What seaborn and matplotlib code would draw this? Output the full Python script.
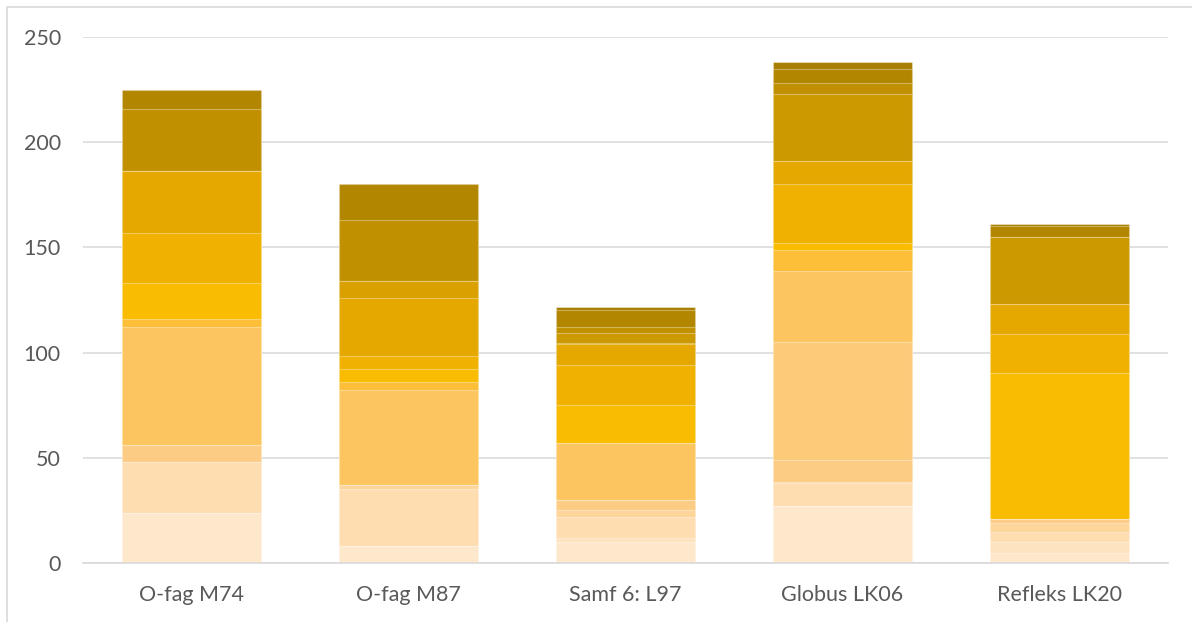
import numpy as np
import pandas as pd
import matplotlib
matplotlib.use("Agg")
import matplotlib.pyplot as plt
import seaborn as sns
from matplotlib.patches import Rectangle

# categories on the x axis
categories = ["O-fag M74", "O-fag M87", "Samf 6: L97", "Globus LK06", "Refleks LK20"]

# segment heights, one list per stacked series (bottom -> top), one value per category
s01 = [24, 8, 10, 27, 4.75]
s02 = [0, 0, 2, 0, 5.25]
s03 = [24, 27, 10, 11, 4.7]
s04 = [0, 2, 3, 0.5, 4.3]
s05 = [8, 0, 5, 10.5, 2]
s06 = [0, 0, 0, 56, 0]
s07 = [56, 45, 27, 34, 0]
s08 = [4, 4, 0, 10, 0]
s09 = [17, 6, 18, 3, 69.5]
s10 = [24, 6.5, 19, 28, 18.5]
s11 = [29.5, 27.5, 10, 11, 14]
s12 = [0, 8, 0.8, 0, 0]
s13 = [0, 0, 4.5, 32, 32]
s14 = [29.5, 29, 2.8, 5, 0]
s15 = [9, 17, 8.2, 7, 5]
s16 = [0, 0, 1.6, 3, 1]

series = [s01, s02, s03, s04, s05, s06, s07, s08, s09, s10, s11, s12, s13, s14, s15, s16]

colors = ["#FEE8CC", "#FEE3C0", "#FEDDB1", "#FDD59A", "#FDCC84", "#FDCA7A",
          "#FDC560", "#FDBE38", "#F9BC00", "#F0B100", "#E5A800", "#DAA000",
          "#CC9900", "#C09000", "#B38600", "#A87E00"]

yticks = [0, 50, 100, 150, 200, 250]

sns.set_theme(style="white")
plt.rcParams["font.family"] = ["Lato", "DejaVu Sans"]

fig = plt.figure(figsize=(11.92, 6.22), dpi=100)
ax = fig.add_axes([83 / 1192, 1 - 563 / 622, (1168 - 83) / 1192, (563 - 37) / 622])

# outer chart frame
fig.patches.append(Rectangle((6.5 / 1192, -0.1), 1.2, 1 - 6.5 / 622 + 0.1,
                             transform=fig.transFigure, fill=False,
                             edgecolor="#D9D9D9", linewidth=1.2))

cum = np.cumsum(np.array(series), axis=0)
# draw tallest cumulative first, so lower series are painted on top
for i in range(len(series) - 1, -1, -1):
    df = pd.DataFrame({"cat": categories, "val": cum[i]})
    sns.barplot(data=df, x="cat", y="val", color=colors[i], saturation=1,
                width=0.645, edgecolor=(1, 1, 1, 0.35), linewidth=0.8, ax=ax)

ax.set_ylim(0, 250)
ax.set_xlim(-0.5, 4.5)
ax.set_yticks(yticks)
ax.set_xlabel("")
ax.set_ylabel("")
ax.yaxis.grid(True, color="#D9D9D9", linewidth=1.1)
ax.set_axisbelow(True)
for side in ["top", "right", "left"]:
    ax.spines[side].set_visible(False)
ax.spines["bottom"].set_color("#D9D9D9")
ax.spines["bottom"].set_linewidth(1.2)
ax.tick_params(axis="both", length=0, labelsize=15.5, colors="#595959")
ax.tick_params(axis="y", pad=16)
ax.tick_params(axis="x", pad=16)

fig.savefig("out.png", dpi=100)
